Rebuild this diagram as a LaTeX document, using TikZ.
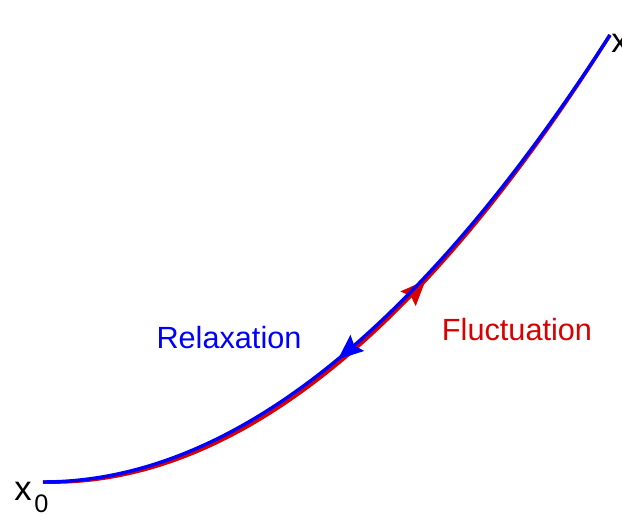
\documentclass[tikz,border=0pt]{standalone}
\usepackage{fontspec}
\setmainfont{Liberation Sans}
\usetikzlibrary{decorations.markings}

\begin{document}
\begin{tikzpicture}[x=0.75pt,y=-0.75pt,
   trackline/.style={line width=2.6pt},
   lbl/.style={font=\fontsize{23}{23}\selectfont},
   endlbl/.style={font=\fontsize{26}{26}\selectfont,inner sep=0pt}]
   \useasboundingbox (0,0) rectangle (622,522);
   \coordinate (x0) at (43,482);
   \coordinate (x1) at (610,35);
   % fluctuation, slightly below
   \draw[trackline,color=red!85!black,shift={(2,4)},
      postaction={decorate,decoration={markings,
         mark=at position 0.574 with {\fill (10pt,0pt) -- (-9pt,8pt) -- (-6pt,0pt) -- (-9pt,-8pt) -- cycle;}}}]
      (x0) .. controls (193,482) and (385,385) .. (x1);
   % relaxation on top
   \draw[trackline,color=blue,
      postaction={decorate,decoration={markings,
         mark=at position 0.452 with {\fill (-10pt,0pt) -- (9pt,8pt) -- (6pt,0pt) -- (9pt,-8pt) -- cycle;}}}]
      (x0) .. controls (193,482) and (385,385) .. (x1);
   \node[lbl,text=blue] (relax) at (229,338) {Relaxation};
   \node[lbl,text=red!85!black] (fluct) at (517,330) {Fluctuation};
   \node[endlbl,anchor=base west] (start) at (14,500) {x\kern2pt\raisebox{-9pt}{\fontsize{19}{19}\selectfont 0}};
   \node[endlbl,anchor=base west] (end) at (611,52) {x};
 \end{tikzpicture}
\end{document}
